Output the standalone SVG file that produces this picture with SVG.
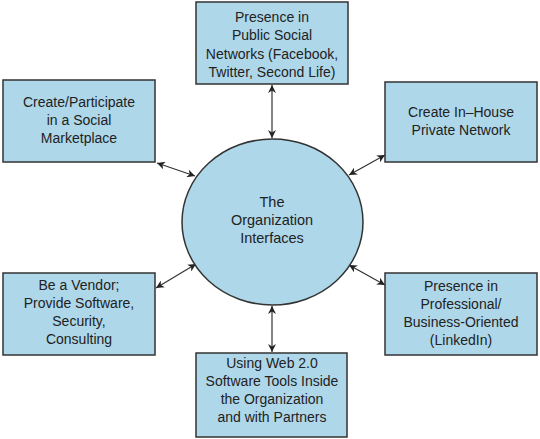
<svg xmlns="http://www.w3.org/2000/svg" width="540" height="439" viewBox="0 0 540 439">
<style>
.box{fill:#aed7ea;stroke:#333;stroke-width:1.5}
.t{font-family:"Liberation Sans",Arial,sans-serif;font-size:14px;fill:#222;text-anchor:middle}
.c{font-family:"Liberation Sans",Arial,sans-serif;font-size:14.5px;fill:#222;text-anchor:middle}
.ln{stroke:#333;stroke-width:1.2;fill:none;marker-start:url(#a);marker-end:url(#a)}
</style>
<defs>
<marker id="a" viewBox="0 0 10 10" refX="10" refY="5" markerWidth="8" markerHeight="8" orient="auto-start-reverse" markerUnits="userSpaceOnUse">
<path d="M0,0 L10,5 L0,10 L3,5 Z" fill="#222"/>
</marker>
</defs>
<rect width="540" height="439" fill="#fff"/>
<g id="connectors">
<line class="ln" x1="272" y1="85" x2="272" y2="138"/>
<line class="ln" x1="272" y1="306" x2="272" y2="352"/>
<line class="ln" x1="157" y1="163" x2="195" y2="176"/>
<line class="ln" x1="349" y1="175" x2="385" y2="155"/>
<line class="ln" x1="156" y1="288" x2="196" y2="264"/>
<line class="ln" x1="349" y1="265" x2="385" y2="285"/>
</g>
<g id="center">
<ellipse class="box" cx="272.5" cy="222" rx="90.5" ry="83"/>
<text class="c" x="272" y="207">The</text>
<text class="c" x="272" y="225">Organization</text>
<text class="c" x="272" y="243">Interfaces</text>
</g>
<g id="top">
<rect class="box" x="196" y="2" width="152" height="82"/>
<text class="t" x="272" y="22">Presence in</text>
<text class="t" x="272" y="40">Public Social</text>
<text class="t" x="272" y="59">Networks (Facebook,</text>
<text class="t" x="272" y="77">Twitter, Second Life)</text>
</g>
<g id="topleft">
<rect class="box" x="3" y="80" width="152" height="82"/>
<text class="t" x="79" y="107">Create/Participate</text>
<text class="t" x="79" y="125">in a Social</text>
<text class="t" x="79" y="143">Marketplace</text>
</g>
<g id="topright">
<rect class="box" x="385" y="82" width="152" height="80"/>
<text class="t" x="461" y="117">Create In–House</text>
<text class="t" x="461" y="135">Private Network</text>
</g>
<g id="bottomleft">
<rect class="box" x="3" y="273" width="152" height="82"/>
<text class="t" x="79" y="290">Be a Vendor;</text>
<text class="t" x="79" y="308">Provide Software,</text>
<text class="t" x="79" y="326">Security,</text>
<text class="t" x="79" y="344">Consulting</text>
</g>
<g id="bottomright">
<rect class="box" x="385" y="273" width="152" height="82"/>
<text class="t" x="461" y="291">Presence in</text>
<text class="t" x="461" y="309">Professional/</text>
<text class="t" x="461" y="327">Business-Oriented</text>
<text class="t" x="461" y="345">(LinkedIn)</text>
</g>
<g id="bottom">
<rect class="box" x="196" y="353" width="151" height="84"/>
<text class="t" x="272" y="368">Using Web 2.0</text>
<text class="t" x="272" y="386">Software Tools Inside</text>
<text class="t" x="272" y="404">the Organization</text>
<text class="t" x="272" y="422">and with Partners</text>
</g>
</svg>
